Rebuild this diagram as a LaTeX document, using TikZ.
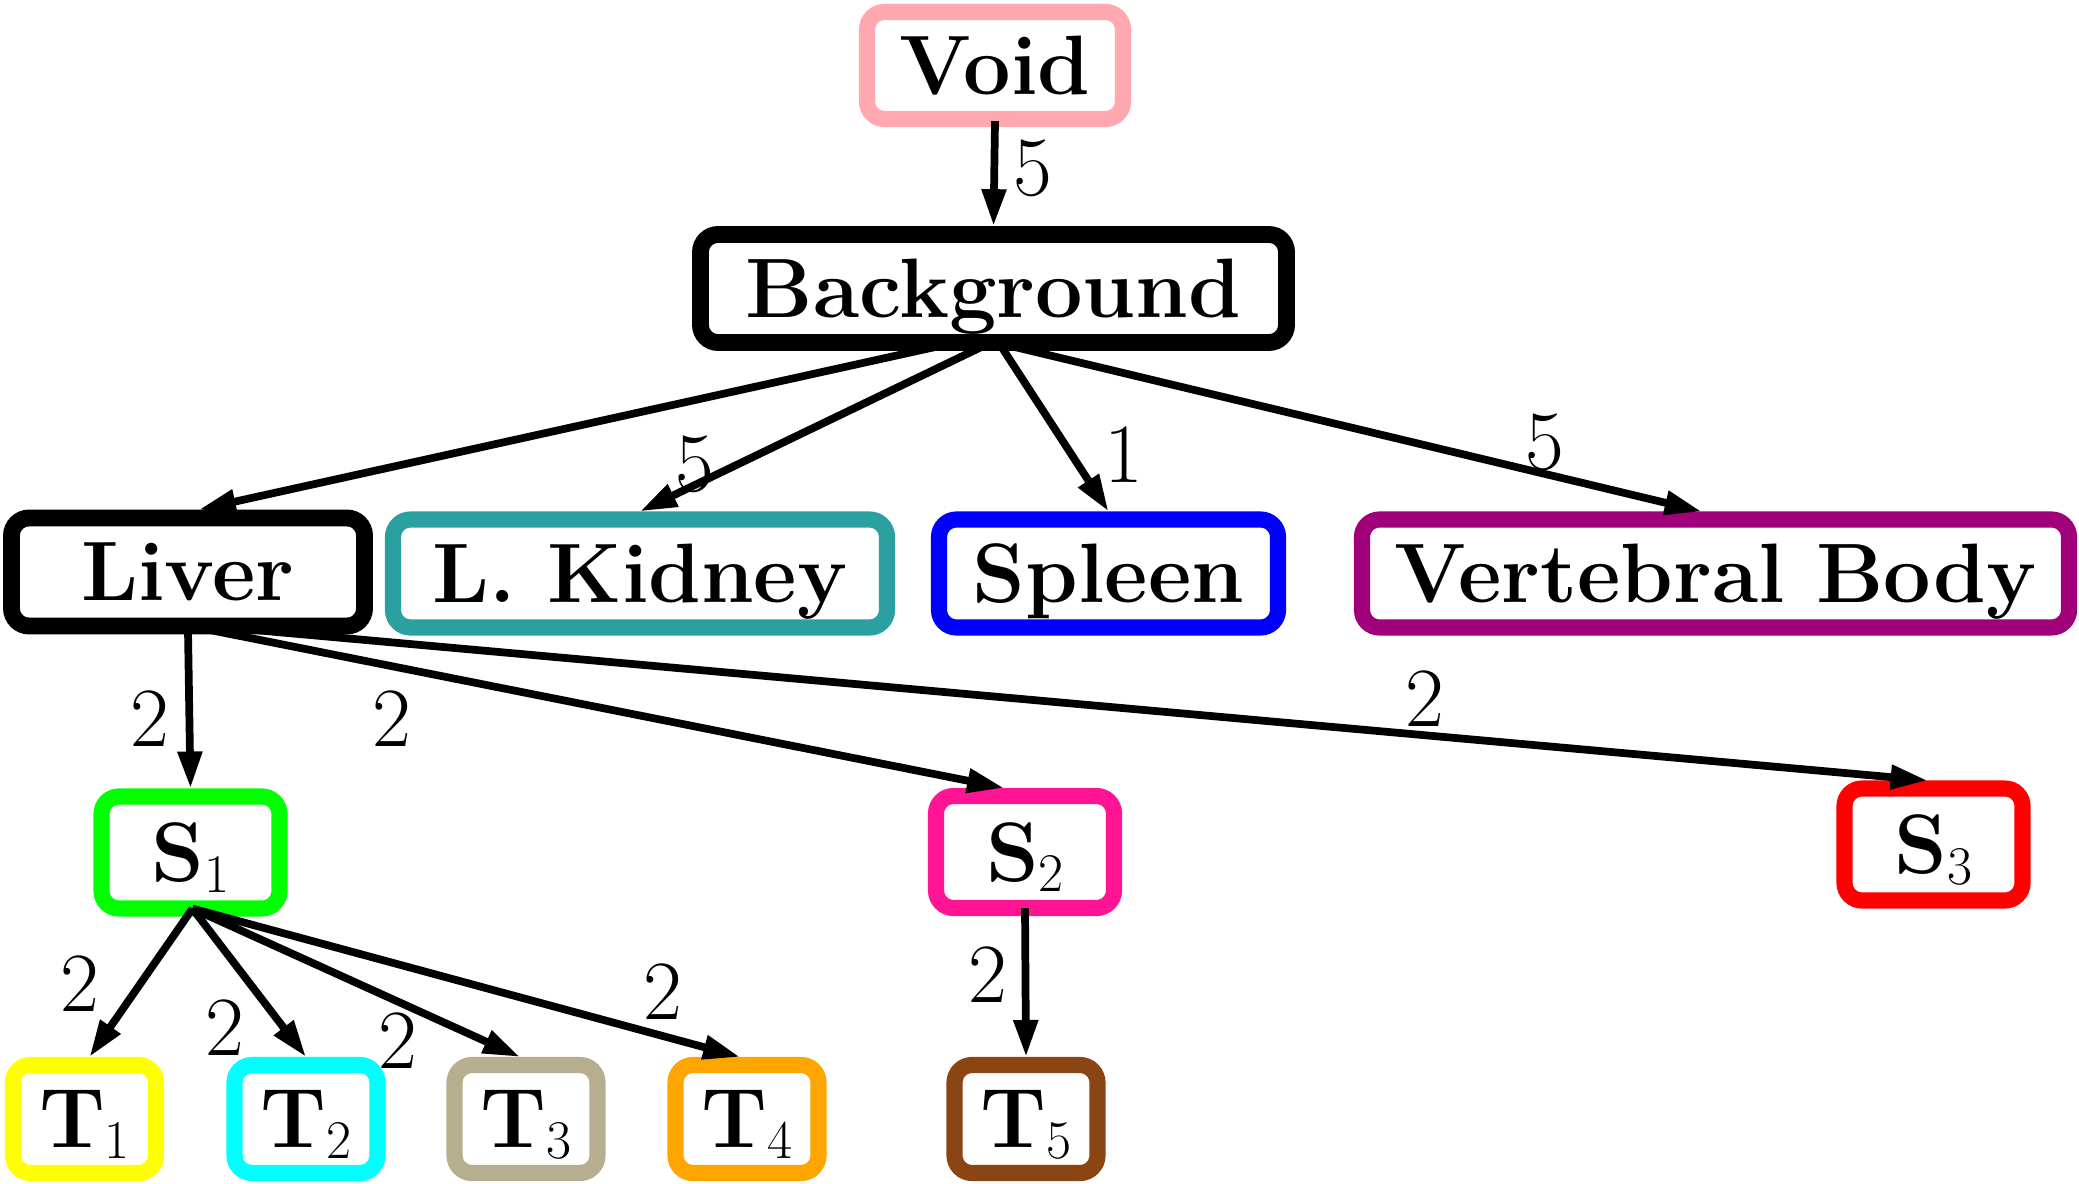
\documentclass[tikz,border=0pt]{standalone}
\usetikzlibrary{arrows.meta,calc}
\definecolor{cvoid}{RGB}{255,168,176}
\definecolor{ckid}{RGB}{42,160,160}
\definecolor{cspl}{RGB}{0,0,255}
\definecolor{cvb}{RGB}{160,0,122}
\definecolor{cs1}{RGB}{0,255,0}
\definecolor{cs2}{RGB}{255,20,147}
\definecolor{cs3}{RGB}{255,0,0}
\definecolor{ct1}{RGB}{255,255,0}
\definecolor{ct2}{RGB}{0,255,255}
\definecolor{ct3}{RGB}{181,175,143}
\definecolor{ct4}{RGB}{255,165,0}
\definecolor{ct5}{RGB}{139,69,19}
\newcommand{\lowidx}[1]{{\fontsize{15.5}{18}\selectfont\mdseries\raisebox{-3pt}{#1}}}
\begin{document}
\begin{tikzpicture}[
  box/.style={draw, rounded corners=5pt, fill=white, inner sep=0pt, align=center,
    font=\fontsize{24}{28}\selectfont\bfseries, line width=4.6pt, text depth=0pt,
    minimum height=1.08cm},
  thickbox/.style={box, line width=4.8pt},
  sbox/.style={box, minimum width=1.78cm, minimum height=1.12cm},
  tbox/.style={box, minimum width=1.43cm, minimum height=1.08cm},
  edge/.style={line width=2.2pt, -{Triangle[length=10.5pt,width=6.6pt]}},
  lbl/.style={font=\fontsize{24}{28}\selectfont, inner sep=0pt}
]
\useasboundingbox (0,0) rectangle (20.79,-11.84);
% nodes
\node[box, draw=cvoid, minimum width=2.56cm, minimum height=1.07cm] (void) at (9.95,-0.655) {Void};
\node[thickbox, minimum width=5.86cm, minimum height=1.08cm] (bg) at (9.935,-2.885) {Background};
\node[thickbox, minimum width=3.53cm] (liver) at (1.88,-5.72) {Liver};
\node[box, draw=ckid, minimum width=4.94cm] (kid) at (6.40,-5.735) {L. Kidney};
\node[box, draw=cspl, minimum width=3.39cm] (spl) at (11.085,-5.735) {Spleen};
\node[box, draw=cvb, minimum width=7.07cm] (vb) at (17.155,-5.735) {Vertebral Body};
\node[sbox, draw=cs1] (s1) at (1.905,-8.525) {S\lowidx{1}};
\node[sbox, draw=cs2] (s2) at (10.25,-8.52) {S\lowidx{2}};
\node[sbox, draw=cs3] (s3) at (19.335,-8.445) {S\lowidx{3}};
\node[tbox, draw=ct1] (t1) at (0.845,-11.19) {T\lowidx{1}};
\node[tbox, draw=ct2] (t2) at (3.06,-11.19) {T\lowidx{2}};
\node[tbox, draw=ct3] (t3) at (5.26,-11.19) {T\lowidx{3}};
\node[tbox, draw=ct4] (t4) at (7.47,-11.19) {T\lowidx{4}};
\node[tbox, draw=ct5] (t5) at (10.26,-11.19) {T\lowidx{5}};
% edges
\draw[edge] ($(void.south)+(0,0.06)$) -- (bg.north);
\draw[edge] ($(bg.south)+(-0.58,0.04)$) -- ($(liver.north)+(0.11,0)$);
\draw[edge] ($(bg.south)+(-0.12,0.04)$) -- (kid.north);
\draw[edge] ($(bg.south)+(0.08,0.04)$) -- (spl.north);
\draw[edge] ($(bg.south)+(0.21,0.04)$) -- ($(vb.north)+(-0.14,0)$);
\draw[edge] ($(liver.south)+(0,0.04)$) -- (s1.north);
\draw[edge] ($(liver.south)+(0.24,0.04)$) -- ($(s2.north)+(-0.21,0)$);
\draw[edge] ($(liver.south)+(0.71,0.04)$) -- ($(s3.north)+(-0.06,0)$);
\draw[edge] ($(s1.south)+(0.02,0.08)$) -- ($(t1.north)+(0.05,0)$);
\draw[edge] ($(s1.south)+(0.02,0.08)$) -- (t2.north);
\draw[edge] ($(s1.south)+(0.02,0.08)$) -- ($(t3.north)+(-0.06,0)$);
\draw[edge] ($(s1.south)+(0.02,0.08)$) -- ($(t4.north)+(-0.07,0)$);
\draw[edge] ($(s2.south)+(0,0.08)$) -- (t5.north);
% labels
\node[lbl] (l0) at (10.33,-1.68) {5};
\node[lbl] (l1) at (6.95,-4.64) {5};
\node[lbl] (l2) at (11.24,-4.55) {1};
\node[lbl] (l3) at (15.45,-4.42) {5};
\node[lbl] (l4) at (1.50,-7.19) {2};
\node[lbl] (l5) at (3.92,-7.19) {2};
\node[lbl] (l6) at (14.25,-6.99) {2};
\node[lbl] (l7) at (0.80,-9.84) {2};
\node[lbl] (l8) at (2.25,-10.28) {2};
\node[lbl] (l9) at (3.98,-10.41) {2};
\node[lbl] (l10) at (6.63,-9.92) {2};
\node[lbl] (l11) at (9.88,-9.75) {2};
\end{tikzpicture}
\end{document}
